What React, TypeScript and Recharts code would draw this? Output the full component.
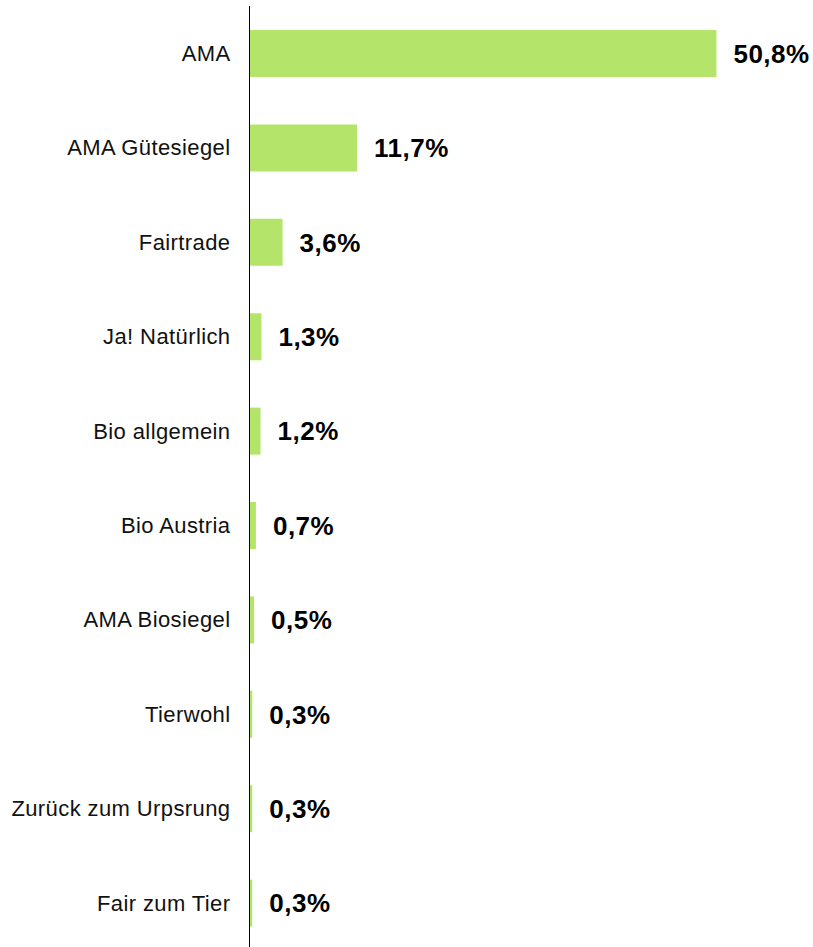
import { Bar, BarChart, LabelList, XAxis, YAxis } from "recharts";

const labels = [
  "AMA",
  "AMA Gütesiegel",
  "Fairtrade",
  "Ja! Natürlich",
  "Bio allgemein",
  "Bio Austria",
  "AMA Biosiegel",
  "Tierwohl",
  "Zurück zum Urpsrung",
  "Fair zum Tier"
];

const shares = [50.8, 11.7, 3.6, 1.3, 1.2, 0.7, 0.5, 0.3, 0.3, 0.3];

const data = labels.map((name, i) => ({ name, value: shares[i] }));

function percent(value: number) {
  return `${value.toFixed(1).replace(".", ",")}%`;
}

export default function App() {
  return (
    <div style={{ position: "absolute", left: 0, top: 0, width: 813, height: 947, overflow: "hidden" }}>
      <BarChart
        width={813}
        height={950}
        data={data}
        layout="vertical"
        margin={{ top: 6, right: 12, bottom: 0, left: 0 }}
      >
        <XAxis type="number" domain={[0, 60]} hide />
        <YAxis
          type="category"
          dataKey="name"
          width={249.5}
          tickLine={false}
          tickSize={0}
          tickMargin={19}
          axisLine={{ stroke: "#000", strokeWidth: 1 }}
          tick={{
            fill: "#111",
            fontSize: 22,
            letterSpacing: 0.4,
            fontFamily: "Liberation Sans, Arial, sans-serif"
          }}
        />
        <Bar dataKey="value" fill="#b4e56a" barSize={47} isAnimationActive={false}>
          <LabelList
            dataKey="value"
            position="right"
            offset={17}
            formatter={(v: number) => percent(v)}
            fill="#000"
            fontSize={26}
            fontWeight="bold"
            letterSpacing={0.5}
            fontFamily="Liberation Sans, Arial, sans-serif"
          />
        </Bar>
      </BarChart>
    </div>
  );
}
